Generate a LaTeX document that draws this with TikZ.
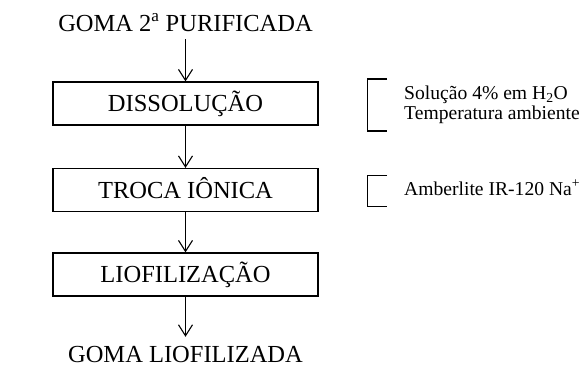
\documentclass[tikz,border=0pt]{standalone}
\usepackage{fontspec}
\setmainfont{Liberation Serif}
\usetikzlibrary{arrows.meta}
\tikzset{
  big/.style={font=\fontsize{24.5}{28}\selectfont},
  small/.style={font=\fontsize{19.6}{20}\selectfont, inner sep=0pt, anchor=base west},
  stepbox/.style={draw, line width=1.2pt, big, minimum width=265pt, minimum height=43pt,
    text height=16pt, text depth=0pt, inner sep=0pt},
  label/.style={big, text height=17pt, text depth=0pt, inner xsep=0pt, inner ysep=8pt},
  flow/.style={line width=1.1pt, -{Straight Barb[length=11pt,width=14pt]}},
  brace/.style={line width=1.2pt}
}
\begin{document}
\begin{tikzpicture}[x=1pt,y=-1pt]
\useasboundingbox (0,0) rectangle (587,368);
\node[label] (top) at (185.5,22.5) {GOMA 2\textsuperscript{a} PURIFICADA};
\node[stepbox] (diss) at (185.5,103.5) {DISSOLUÇÃO};
\node[stepbox] (troca) at (185.5,190) {TROCA IÔNICA};
\node[stepbox] (liof) at (185.5,274.5) {LIOFILIZAÇÃO};
\node[label] (bot) at (185.5,353.5) {GOMA LIOFILIZADA};
\draw[flow] (top) -- (diss);
\draw[flow] (diss) -- (troca);
\draw[flow] (troca) -- (liof);
\draw[flow] (liof) -- (bot);
\draw[brace] (387,79) -- (367.5,79) -- (367.5,131) -- (387,131);
\draw[brace] (387,175.5) -- (367.5,175.5) -- (367.5,206.5) -- (387,206.5);
\node[small] (s1) at (404,99) {Solução 4\% em H\textsubscript{2}O};
\node[small] (s2) at (404,119) {Temperatura ambiente};
\node[small] (s3) at (404,195) {Amberlite IR-120 Na\textsuperscript{+}};
\end{tikzpicture}
\end{document}
